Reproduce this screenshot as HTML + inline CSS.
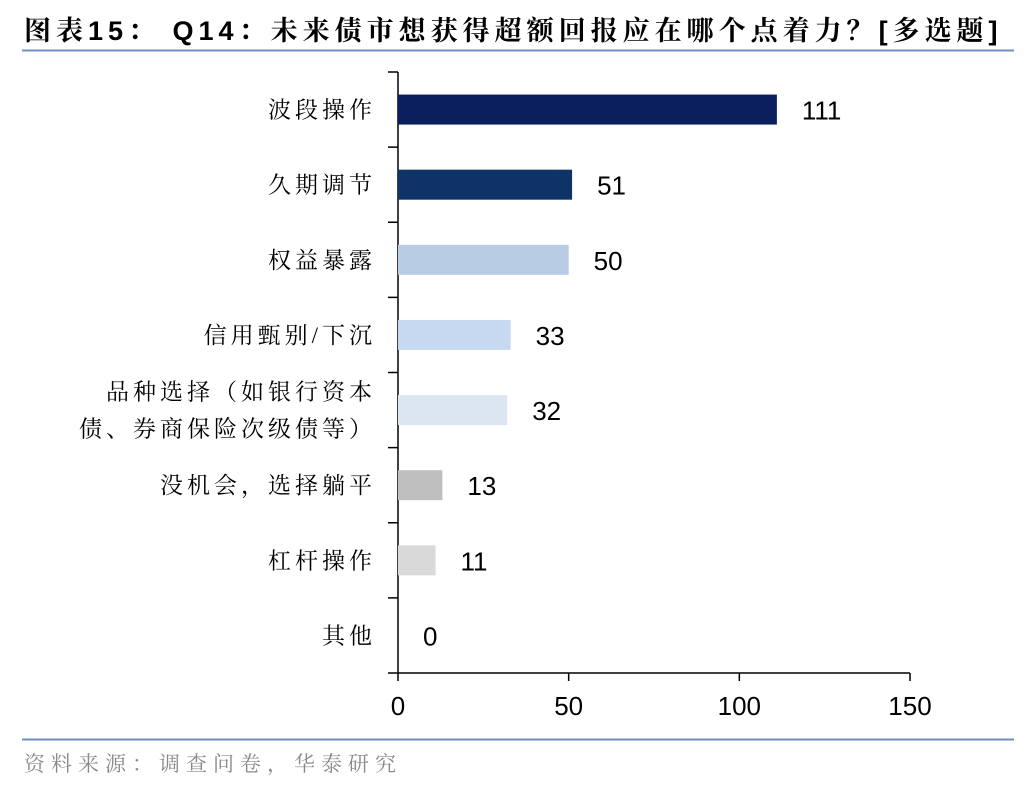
<!DOCTYPE html>
<html><head><meta charset="utf-8"><style>
body{margin:0;width:1036px;height:792px;background:#fff;overflow:hidden;font-family:"Liberation Sans","Noto Sans CJK SC",sans-serif}
</style></head><body>
<svg width="1036" height="792" xmlns="http://www.w3.org/2000/svg">
<text x="24" y="40" font-family="'Liberation Sans','Noto Serif CJK SC',serif" font-weight="bold" font-size="27" letter-spacing="5" fill="#000">图表15： Q14：未来债市想获得超额回报应在哪个点着力？[多选题]</text>
<line x1="22" y1="50.5" x2="1014" y2="50.5" stroke="#6d8fc0" stroke-width="2"/>
<line x1="22" y1="739.5" x2="1014" y2="739.5" stroke="#6d8fc0" stroke-width="2"/>
<text x="24" y="771" font-family="'Liberation Sans','Noto Serif CJK SC',serif" font-size="21" letter-spacing="6" fill="#888">资料来源：调查问卷，华泰研究</text>
<g id="plot"></g>
</svg>
<script>
const categories=[["波段操作"],["久期调节"],["权益暴露"],["信用甄别/下沉"],["品种选择（如银行资本","债、券商保险次级债等）"],["没机会，选择躺平"],["杠杆操作"],["其他"]];
const values=[111,51,50,33,32,13,11,0];
const colors=["#0b1f5e","#0e3366","#b8cce4","#c6d9f1","#dce6f2","#bfbfbf","#d9d9d9","#d9d9d9"];
const xTicks=[0,50,100,150];
const NS="http://www.w3.org/2000/svg";
const g=document.getElementById('plot');
const x0=398,x1=910,yTop=72,yBot=673;
const band=(yBot-yTop)/categories.length;
const xs=v=>x0+(v-0)/(150-0)*(x1-x0);
function mk(t,a,txt){const e=document.createElementNS(NS,t);for(const k in a)e.setAttribute(k,a[k]);if(txt!==undefined)e.textContent=txt;g.appendChild(e);return e;}
let e=mk('line',{x1:x0,y1:yTop,x2:x0,y2:yBot,stroke:'#000','stroke-width':1.5});


e=mk('line',{x1:x0,y1:yBot,x2:x1,y2:yBot,stroke:'#000','stroke-width':1.5});


for(let i=0;i<=categories.length;i++){
  e=mk('line',{x1:x0-10,y1:yTop+i*band,x2:x0,y2:yTop+i*band,stroke:'#000','stroke-width':1.5});
  
  
}
xTicks.forEach(t=>{
  e=mk('line',{x1:xs(t),y1:yBot,x2:xs(t),y2:yBot+8,stroke:'#000','stroke-width':1.5});
  
  
  e=mk('text',{x:xs(t),y:yBot+42,'text-anchor':'middle','font-size':26,fill:'#000'},String(t));
  
  
});
categories.forEach((c,i)=>{
  const cy=yTop+(i+0.5)*band;
  e=mk('rect',{x:x0,y:cy-15,width:xs(values[i])-x0,height:30,fill:colors[i]});
  
  
  e=mk('text',{x:xs(values[i])+25,y:cy+10,'font-size':26,fill:'#000'},String(values[i]));
  
  
  c.forEach((line,j)=>{
    const off=(j-(c.length-1)/2)*37;
    e=mk('text',{x:376,y:cy+off+8,'text-anchor':'end','font-size':23,'letter-spacing':4,fill:'#000','font-family':"'Liberation Serif','Noto Serif CJK SC',serif"},line);
    
    
  });
});
</script>
</body></html>
